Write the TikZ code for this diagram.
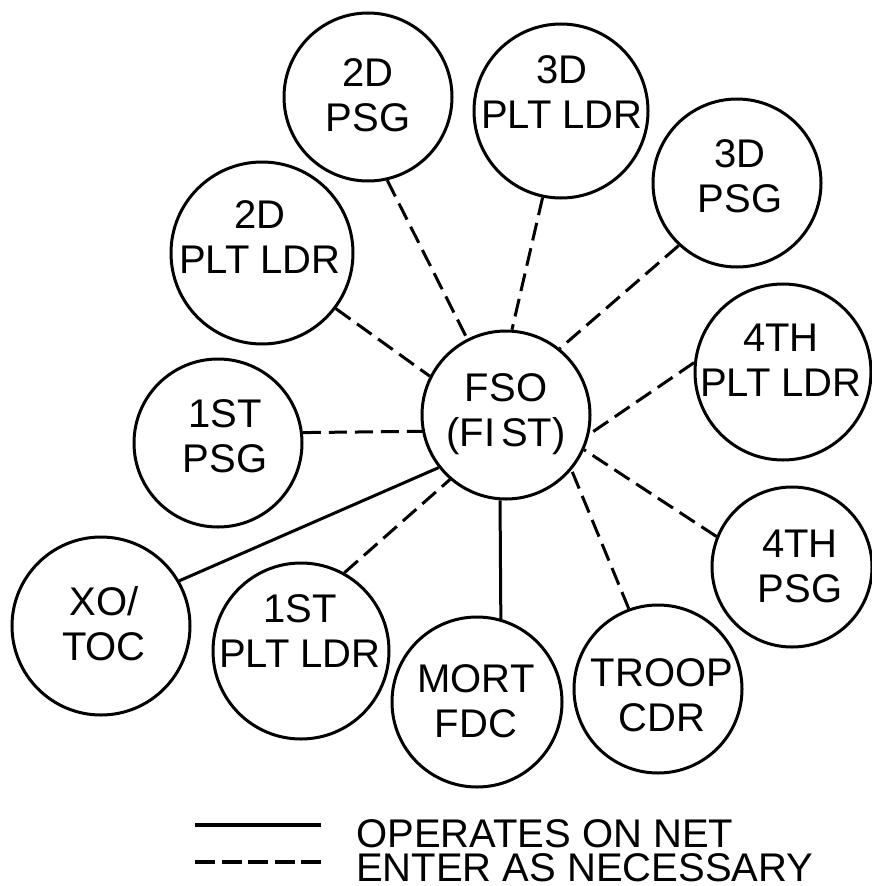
\documentclass[tikz,border=0pt]{standalone}
\usepackage{fontspec}
\setmainfont{Liberation Sans}
\begin{document}
\begin{tikzpicture}[x=1pt,y=-1pt,
  ring/.style={draw, circle, line width=3pt, inner sep=0pt, minimum size=#1},
  lbl/.style={font=\fontsize{40}{45}\selectfont, align=center, inner sep=0pt},
  legtxt/.style={font=\fontsize{40}{45}\selectfont, inner sep=0pt, anchor=base west, text height=29pt, text depth=0pt},
  net/.style={line width=3pt},
  maybe/.style={line width=3pt, dash pattern=on 18pt off 8pt},
  legline/.style={line width=4.5pt},
  legdash/.style={line width=4.5pt, dash pattern=on 20pt off 6.5pt}]
\path[use as bounding box] (0,0) rectangle (872,886);

% circles
\node[ring=168pt] (psg2) at (368,97) {};
\node[ring=174pt] (pl3) at (561,111) {};
\node[ring=168pt] (psg3) at (737,183) {};
\node[ring=182pt] (pl2) at (262,253) {};
\node[ring=168pt] (fso) at (506,415) {};
\node[ring=176pt] (pl4) at (783,372) {};
\node[ring=168pt] (psg1) at (218,443) {};
\node[ring=160pt] (psg4) at (792,567) {};
\node[ring=178pt] (xo) at (101,626) {};
\node[ring=176pt] (pl1) at (301,651) {};
\node[ring=170pt] (mort) at (477,702) {};
\node[ring=168pt] (troop) at (658,689) {};

% texts
\node[lbl] (t2dpsg) at (368,95) {2D\\PSG};
\node[lbl] (t3dpl) at (562,92.5) {3D\\PLT LDR};
\node[lbl] (t3dpsg) at (740,176.5) {3D\\PSG};
\node[lbl] (t2dpl) at (260,237) {2D\\PLT LDR};
\node[lbl] (tfso) at (506,414) {FSO\\(FI\hspace{0.15em}ST)};
\node[lbl] (t4pl) at (781,360) {4TH\\PLT LDR};
\node[lbl] (t1psg) at (225,436.5) {1ST\\PSG};
\node[lbl] (t4psg) at (800,566) {4TH\\PSG};
\node[lbl] (txo) at (104,623.5) {XO/\\TOC};
\node[lbl] (t1pl) at (300,631.5) {1ST\\PLT LDR};
\node[lbl] (tmort) at (476,701.5) {MORT\\FDC};
\node[lbl] (ttroop) at (662,695.5) {TROOP\\CDR};

% connectors
\draw[maybe] (psg2.283) -- (fso.117.7);
\draw[maybe] (pl3.258) -- (fso.86);
\draw[maybe] (psg3.227) -- (fso.51);
\draw[maybe] (pl2.-37.5) -- (fso.153);
\draw[maybe] (pl4.174) -- (fso.-13.5);
\draw[maybe] (psg1.7.5) -- (fso.191.7);
\draw[net] (xo.30.7) -- (fso.218);
\draw[maybe] (pl1.61) -- (fso.229);
\draw[net] (mort.74) -- (fso.266);
\draw[maybe] (troop.110) -- (fso.320);
\draw[maybe] (psg4.158.5) -- (fso.336);

% legend
\coordinate (ls1) at (195,825);
\coordinate (ls2) at (321,825);
\coordinate (ld1) at (195,862);
\coordinate (ld2) at (321,862);
\draw[legline] (ls1) -- (ls2);
\draw[legdash] (ld1) -- (ld2);
\node[legtxt] (lt1) at (356,847) {OPERATES ON NET};
\node[legtxt] (lt2) at (356,881) {ENTER AS NECESSARY};
\end{tikzpicture}
\end{document}
